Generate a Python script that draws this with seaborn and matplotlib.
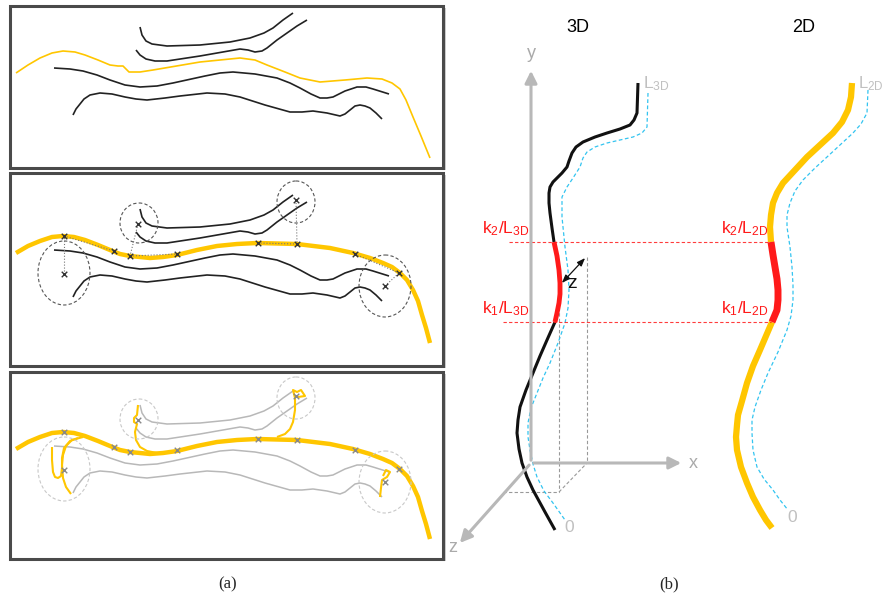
import numpy as np
import pandas as pd
import matplotlib
matplotlib.use("Agg")
import matplotlib.pyplot as plt
import seaborn as sns
from matplotlib.patches import Rectangle, Ellipse

# ---- panel (a): traced curves (pixel coords of the top box) ----
thin_yellow = [(16, 73), (28, 65), (40, 58), (52, 53), (63, 51), (75, 52), (85, 55), (98, 60),
               (110, 65), (118, 66), (123, 66), (126, 69), (129, 72), (140, 72), (153, 70),
               (200, 62), (240, 58), (255, 60), (267, 65), (285, 72), (300, 78), (320, 82),
               (345, 80), (367, 78), (382, 79), (392, 83), (400, 89), (406, 100), (413, 117),
               (421, 136), (430, 158)]
curve_a = [(140, 27), (142, 35), (146, 41), (152, 44), (167, 46), (200, 45), (230, 42),
           (250, 38), (264, 33), (273, 28), (283, 20), (293, 13)]
curve_b = [(136, 50), (140, 55), (146, 59), (155, 61), (167, 61), (200, 56), (240, 49),
           (248, 50), (255, 52), (262, 51), (267, 48), (277, 40), (287, 33), (297, 26), (307, 20)]
curve_c = [(54, 68), (70, 69), (83, 71), (97, 75), (110, 80), (125, 85), (140, 87), (157, 86),
           (173, 83), (205, 76), (220, 73), (233, 72), (255, 74), (277, 78), (290, 83),
           (300, 88), (311, 94), (320, 98), (327, 98), (333, 97), (345, 91), (357, 87),
           (366, 87), (373, 89), (389, 94)]
curve_d = [(73, 115), (76, 109), (80, 104), (84, 99), (90, 95), (100, 93), (112, 94), (125, 97),
           (136, 99), (147, 100), (165, 98), (180, 96), (207, 93), (225, 94), (240, 97),
           (265, 105), (290, 112), (302, 112), (313, 111), (327, 113), (340, 116), (345, 114),
           (350, 110), (355, 106), (360, 105), (365, 106), (370, 108), (376, 113), (382, 119)]
thick_yellow = [(16, 253), (28, 246), (40, 241), (52, 237), (63, 236), (74, 237), (85, 240),
                (98, 245), (110, 250), (120, 254), (130, 256), (140, 257), (150, 258),
                (163, 257), (177, 255), (197, 250), (217, 246), (237, 244), (257, 243),
                (297, 244), (330, 248), (353, 253), (370, 258), (383, 263), (392, 267),
                (400, 273), (407, 280), (413, 290), (418, 301), (422, 315), (426, 328), (430, 343)]
box_tops = [6, 173, 372]
box_bottoms = [168, 366, 559]
black_shift = [0, 182, 378]
yellow_shift = 196

# matching circles (centre x, centre y, width, height) in box 2
circles = [(64, 273, 52, 64), (139, 223, 38, 40), (296, 202, 38, 42), (385, 286, 52, 62)]
on_curve_x = [64, 114, 130, 177, 258, 297, 355, 399]
on_curve_y = [236, 251, 256, 254, 243, 244, 254, 273]
end_x = [64, 138, 296, 385]
end_y = [274, 224, 200, 286]
links = [((64, 274), (64, 236)), ((64, 236), (114, 251)), ((138, 224), (130, 256)),
         ((130, 256), (177, 254)), ((296, 200), (297, 244)), ((297, 244), (258, 243)),
         ((385, 286), (399, 273)), ((399, 273), (355, 254))]
# deformed end pieces in box 3
loops = [
    [(83, 437), (72, 440), (66, 446), (63, 455), (62, 465), (63, 478), (66, 487), (71, 494)],
    [(52, 447), (52, 460), (53, 472), (55, 477), (58, 478), (61, 476), (62, 468), (62, 458),
     (64, 448), (70, 441), (78, 438)],
    [(138, 405), (137, 415), (134, 418), (134, 422), (137, 424), (135, 432), (136, 440),
     (140, 447), (147, 451), (157, 453)],
    [(277, 437), (285, 434), (290, 429), (293, 422), (295, 410), (295, 398), (293, 390),
     (297, 392), (301, 390), (305, 396), (298, 397)],
    [(380, 497), (381, 488), (382, 480), (387, 477), (390, 472), (386, 470), (383, 476)],
]

# ---- panel (b) ----
black_3d = [(638, 83), (637, 113), (634, 120), (630, 125), (620, 129), (607, 133), (595, 137),
            (583, 142), (576, 147), (572, 153), (569, 161), (567, 167), (562, 173), (553, 182),
            (550, 187), (549, 193), (549, 203), (550, 213), (552, 228), (554, 242)]
red_3d = [(554, 242), (557, 256), (559, 270), (560, 283), (560, 294), (559, 303), (557, 313), (555, 322)]
black_3d_low = [(555, 322), (551, 331), (547, 340), (540, 356), (533, 373), (526, 390),
                (520, 407), (518, 420), (517, 433), (519, 449), (522, 463), (527, 477),
                (533, 490), (539, 501), (545, 512), (550, 521), (555, 530)]
cyan_3d = [(648, 93), (647, 127), (642, 133), (633, 137), (620, 140), (607, 143), (595, 147),
           (587, 152), (583, 158), (580, 167), (573, 178), (567, 187), (562, 197), (562, 217),
           (565, 247), (568, 270), (569, 290), (568, 308), (565, 323), (558, 343), (550, 363),
           (543, 378), (537, 393), (531, 408), (528, 423), (528, 437), (530, 450), (533, 464),
           (537, 477), (544, 491), (553, 503), (565, 520)]
yellow_2d = [(852, 83), (851, 97), (848, 110), (842, 122), (833, 133), (820, 145), (807, 157),
             (795, 170), (783, 183), (777, 193), (773, 203), (771, 215), (770, 227), (771, 242)]
red_2d = [(771, 242), (773, 255), (775, 267), (777, 279), (778, 290), (778, 300), (777, 310), (772, 322)]
yellow_2d_low = [(772, 322), (766, 336), (760, 350), (753, 366), (747, 383), (742, 401),
                 (738, 415), (737, 425), (736, 437), (737, 450), (741, 467), (747, 483),
                 (753, 497), (760, 510), (766, 520), (772, 528)]
cyan_2d = [(868, 90), (867, 113), (861, 124), (853, 133), (840, 145), (827, 157), (815, 168),
           (803, 180), (795, 191), (790, 203), (787, 215), (787, 227), (790, 247), (792, 267),
           (793, 285), (793, 300), (791, 316), (787, 330), (778, 352), (768, 373), (761, 390),
           (755, 407), (752, 420), (752, 433), (753, 450), (757, 467), (764, 479), (773, 490),
           (780, 500), (788, 510)]
k_levels = [242, 322]
k_labels_3d = [r"k$_2$/L$_{3D}$", r"k$_1$/L$_{3D}$"]
k_labels_2d = [r"k$_2$/L$_{2D}$", r"k$_1$/L$_{2D}$"]

YEL = "#ffc600"
RED = "#ff1a1a"
CYAN = "#33c4f0"
GRAY = "#b8b8b8"

sns.set_theme(style="white")
plt.rcParams["font.family"] = ["Liberation Sans", "DejaVu Sans"]
plt.rcParams["mathtext.fontset"] = "custom"
plt.rcParams["mathtext.rm"] = "Liberation Sans"
plt.rcParams["mathtext.it"] = "Liberation Sans"
plt.rcParams["mathtext.default"] = "regular"
fig = plt.figure(figsize=(8.86, 6.0), dpi=100)
ax = fig.add_axes([0, 0, 1, 1])
ax.set_xlim(0, 886)
ax.set_ylim(600, 0)
ax.axis("off")


def draw(pts, dy=0, **kw):
    df = pd.DataFrame(pts, columns=["x", "y"])
    df["y"] = df["y"] + dy
    sns.lineplot(data=df, x="x", y="y", sort=False, estimator=None, ax=ax,
                 solid_capstyle="butt", solid_joinstyle="round", **kw)


# boxes with a soft shadow
for top, bot in zip(box_tops, box_bottoms):
    ax.add_patch(Rectangle((12, top + 2), 434, bot - top, fc="#cfcfcf", ec="none", zorder=0))
    ax.add_patch(Rectangle((10, top), 433, bot - top, fc="white", ec="#4a4a4a", lw=2.2, zorder=1))

# box 1
draw(thin_yellow, color=YEL, lw=1.2)
for c in [curve_a, curve_b, curve_c, curve_d]:
    draw(c, color="#222222", lw=1.2)

# box 2
draw(thick_yellow, color=YEL, lw=3.2)
for c in [curve_a, curve_b, curve_c, curve_d]:
    draw(c, dy=black_shift[1], color="#222222", lw=1.2)
for cx, cy, w, h in circles:
    ax.add_patch(Ellipse((cx, cy), w, h, fill=False, ec="#555555", lw=0.8, ls=(0, (3, 2)), zorder=3))
for (x0, y0), (x1, y1) in links:
    ax.plot([x0, x1], [y0, y1], color="#777777", lw=0.8, ls=":", zorder=3)
ax.scatter(on_curve_x, on_curve_y, marker="x", s=16, c="#333333", linewidths=1.0, zorder=4)
ax.scatter(end_x, end_y, marker="x", s=16, c="#333333", linewidths=1.0, zorder=4)

# box 3
draw(thick_yellow, dy=yellow_shift, color=YEL, lw=3.2)
for c in [curve_a, curve_b, curve_c, curve_d]:
    draw(c, dy=black_shift[2], color=GRAY, lw=1.1)
for cx, cy, w, h in circles:
    ax.add_patch(Ellipse((cx, cy + yellow_shift), w, h, fill=False, ec="#c8c8c8", lw=0.8,
                         ls=(0, (3, 2)), zorder=3))
for lp in loops:
    draw(lp, color=YEL, lw=1.5)
ax.scatter(on_curve_x, np.array(on_curve_y) + yellow_shift, marker="x", s=16, c="#888888",
           linewidths=1.0, zorder=4)
ax.scatter(end_x, np.array(end_y) + yellow_shift, marker="x", s=16, c="#888888",
           linewidths=1.0, zorder=4)

# ---- panel (b) ----
ox, oy = 531, 463
arr = dict(arrowstyle="-|>,head_length=0.6,head_width=0.3", color=GRAY, lw=2.2)
ax.annotate("", xy=(ox, 68), xytext=(ox, oy), arrowprops=arr)
ax.annotate("", xy=(684, oy), xytext=(ox, oy), arrowprops=arr)
ax.annotate("", xy=(458, 545), xytext=(ox, oy), arrowprops=arr)
ax.text(ox, 62, "y", color="#aaaaaa", fontsize=13, ha="center", va="bottom")
ax.text(689, oy, "x", color="#aaaaaa", fontsize=13, ha="left", va="center")
ax.text(453, 548, "z", color="#aaaaaa", fontsize=13, ha="center", va="center")

# projection box
ax.plot([587, 587], [257, oy], color="#999999", lw=0.8, ls=(0, (3, 2)))
ax.plot([559, 559], [285, 492], color="#999999", lw=0.8, ls=(0, (3, 2)))
ax.plot([503, 559], [492, 492], color="#999999", lw=0.8, ls=(0, (3, 2)))
ax.plot([559, 587], [492, oy], color="#999999", lw=0.8, ls=(0, (3, 2)))
ax.annotate("", xy=(587, 256), xytext=(560, 285),
            arrowprops=dict(arrowstyle="<|-|>,head_length=0.4,head_width=0.15", color="#111111", lw=0.9))
ax.text(567, 284, "z", fontsize=14, color="#111111", ha="left", va="center")

draw(cyan_3d, color=CYAN, lw=0.9, ls=(0, (3, 2)))
draw(cyan_2d, color=CYAN, lw=0.9, ls=(0, (3, 2)))
draw(black_3d, color="#111111", lw=2.2)
draw(black_3d_low, color="#111111", lw=2.2)
draw(red_3d, color=RED, lw=3.5)
draw(yellow_2d, color=YEL, lw=4.5)
draw(yellow_2d_low, color=YEL, lw=4.5)
draw(red_2d, color=RED, lw=5.0)

for lvl, l3, l2, x0 in zip(k_levels, k_labels_3d, k_labels_2d, [509, 503]):
    ax.plot([x0, 771], [lvl, lvl], color=RED, lw=0.8, ls=(0, (3, 2)), alpha=0.85)
    ax.text(530, lvl - 4, l3, color=RED, fontsize=12.5, ha="right", va="bottom")
    ax.text(769, lvl - 4, l2, color=RED, fontsize=12.5, ha="right", va="bottom")

ax.text(643, 84, r"L$_{3D}$", color="#c0c0c0", fontsize=12.5, ha="left", va="center")
ax.text(884, 84, r"L$_{2D}$", color="#c0c0c0", fontsize=12, ha="right", va="center")
ax.text(569, 528, "0", color="#c0c0c0", fontsize=12.5, ha="center", va="center")
ax.text(792, 518, "0", color="#c0c0c0", fontsize=12.5, ha="center", va="center")

ax.text(578, 27, "3D", fontsize=13, ha="center", va="center", color="black")
ax.text(804, 27, "2D", fontsize=13, ha="center", va="center", color="black")

ax.text(228, 584, "(a)", fontsize=12, ha="center", va="center", family="Liberation Serif")
ax.text(669, 584, "(b)", fontsize=12, ha="center", va="center", family="Liberation Serif")

fig.savefig("out.png", dpi=100)
